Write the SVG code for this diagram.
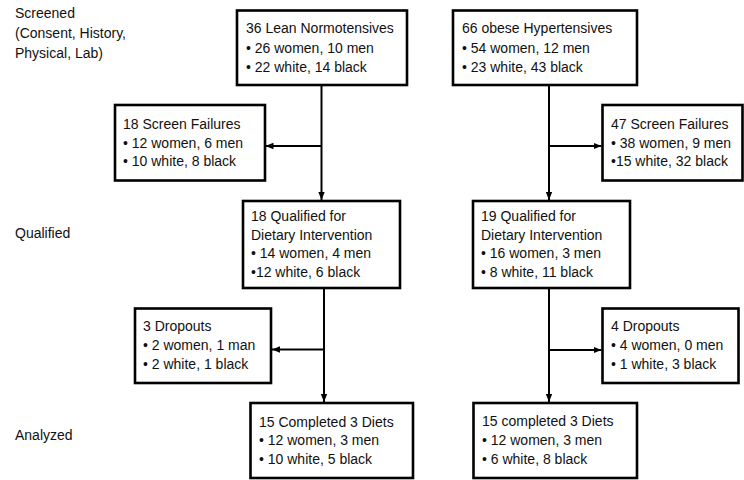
<svg xmlns="http://www.w3.org/2000/svg" width="744" height="480" viewBox="0 0 744 480">
<style>
text{font-family:"Liberation Sans",Arial,sans-serif;font-size:14px;fill:#111}
.box{fill:#fff;stroke:#000;stroke-width:2.6}
.con{stroke:#000;stroke-width:2;fill:none}
</style>
<defs>
<marker id="ah" viewBox="0 0 8 8" refX="8" refY="4" markerWidth="8" markerHeight="8" markerUnits="userSpaceOnUse" orient="auto">
<path d="M0,0.8 L8,4 L0,7.2 Z" fill="#000"/>
</marker>
</defs>
<rect width="744" height="480" fill="#fff"/>
<g id="labels">
<text x="15" y="18">Screened</text>
<text x="15" y="38">(Consent, History,</text>
<text x="15" y="58">Physical, Lab)</text>
<text x="15" y="238">Qualified</text>
<text x="15" y="440">Analyzed</text>
</g>
<g id="connectors">
<line class="con" x1="321.5" y1="85" x2="321.5" y2="200" marker-end="url(#ah)"/>
<line class="con" x1="321.5" y1="146" x2="265.5" y2="146" marker-end="url(#ah)"/>
<line class="con" x1="549" y1="85" x2="549" y2="200" marker-end="url(#ah)"/>
<line class="con" x1="549" y1="146" x2="601.5" y2="146" marker-end="url(#ah)"/>
<line class="con" x1="324" y1="288" x2="324" y2="402" marker-end="url(#ah)"/>
<line class="con" x1="324" y1="349.5" x2="272" y2="349.5" marker-end="url(#ah)"/>
<line class="con" x1="549" y1="288" x2="549" y2="402" marker-end="url(#ah)"/>
<line class="con" x1="549" y1="350" x2="601.5" y2="350" marker-end="url(#ah)"/>
</g>
<g id="lean">
<rect class="box" x="237" y="10.5" width="170" height="74.5"/>
<text x="246" y="33">36 Lean Normotensives</text>
<text x="246" y="52.5">• 26 women, 10 men</text>
<text x="246" y="71.5">• 22 white, 14 black</text>
</g>
<g id="obese">
<rect class="box" x="453" y="10.5" width="184" height="74.5"/>
<text x="462" y="33">66 obese Hypertensives</text>
<text x="462" y="52.5">• 54 women, 12 men</text>
<text x="462" y="71.5">• 23 white, 43 black</text>
</g>
<g id="fail-left">
<rect class="box" x="115" y="105" width="150" height="75.5"/>
<text x="123" y="128.5">18 Screen Failures</text>
<text x="123" y="147.5">• 12 women, 6 men</text>
<text x="123" y="166">• 10 white, 8 black</text>
</g>
<g id="fail-right">
<rect class="box" x="602.5" y="105" width="140" height="75.5"/>
<text x="611" y="128.5">47 Screen Failures</text>
<text x="611" y="147.5">• 38 women, 9 men</text>
<text x="611" y="166">•15 white, 32 black</text>
</g>
<g id="qual-left">
<rect class="box" x="243" y="201" width="157" height="87"/>
<text x="251" y="221">18 Qualified for</text>
<text x="251" y="239.5">Dietary Intervention</text>
<text x="251" y="258">• 14 women, 4 men</text>
<text x="251" y="277">•12 white, 6 black</text>
</g>
<g id="qual-right">
<rect class="box" x="473" y="201" width="157" height="87"/>
<text x="481" y="221">19 Qualified for</text>
<text x="481" y="239.5">Dietary Intervention</text>
<text x="481" y="258">• 16 women, 3 men</text>
<text x="481" y="277">• 8 white, 11 black</text>
</g>
<g id="drop-left">
<rect class="box" x="135" y="308.5" width="136" height="74.5"/>
<text x="143" y="331">3 Dropouts</text>
<text x="143" y="350">• 2 women, 1 man</text>
<text x="143" y="368.5">• 2 white, 1 black</text>
</g>
<g id="drop-right">
<rect class="box" x="602.5" y="308.5" width="136" height="74.5"/>
<text x="611" y="331">4 Dropouts</text>
<text x="611" y="350">• 4 women, 0 men</text>
<text x="611" y="368.5">• 1 white, 3 black</text>
</g>
<g id="done-left">
<rect class="box" x="250.5" y="403" width="162.5" height="75"/>
<text x="259" y="426.5">15 Completed 3 Diets</text>
<text x="259" y="445">• 12 women, 3 men</text>
<text x="259" y="463.5">• 10 white, 5 black</text>
</g>
<g id="done-right">
<rect class="box" x="473.5" y="403" width="163.5" height="75"/>
<text x="482" y="426">15 completed 3 Diets</text>
<text x="482" y="445">• 12 women, 3 men</text>
<text x="482" y="463.5">• 6 white, 8 black</text>
</g>
</svg>
